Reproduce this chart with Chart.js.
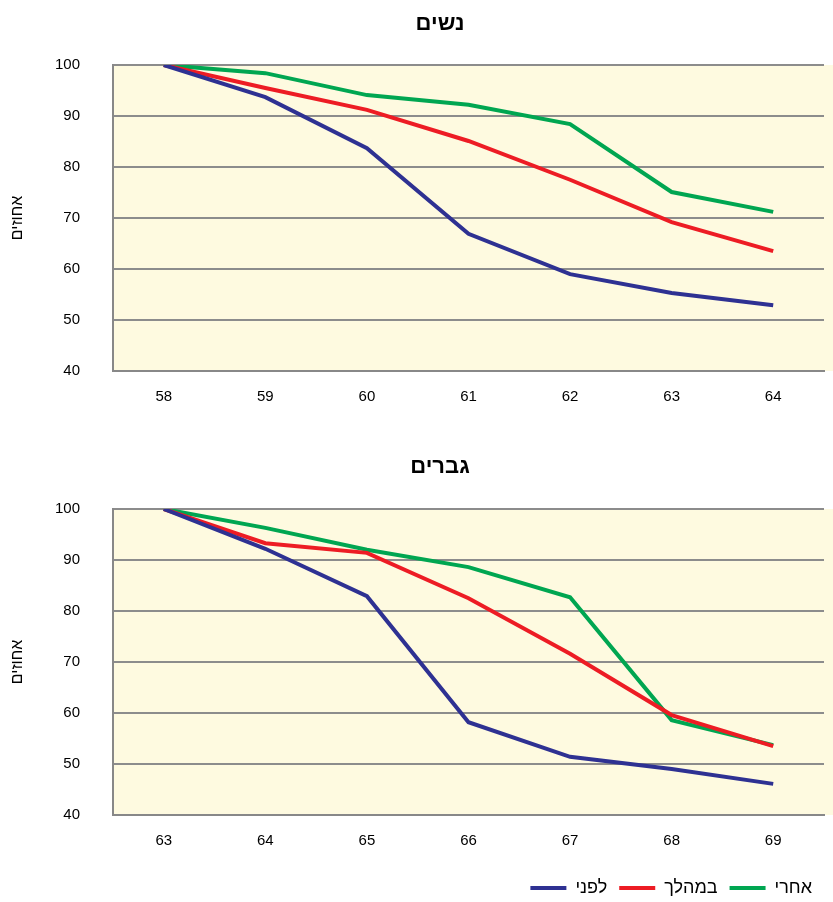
<!DOCTYPE html>
<html>
<head>
<meta charset="utf-8">
<script src="https://cdn.jsdelivr.net/npm/chart.js@4/dist/chart.umd.min.js"></script>
<style>
  html, body { margin: 0; background: #fff; overflow: hidden; font-family: "Liberation Sans", Arial, sans-serif; }
  .wrap { position: absolute; left: 0; width: 833px; }
  .title { position: absolute; left: 0; width: 880px; text-align: center; font-weight: bold; font-size: 22px; direction: rtl; }
</style>
</head>
<body>
<div class="wrap" style="top:0;height:440px"><canvas id="women"></canvas></div>
<div class="title" style="top:10px">נשים</div>
<div class="wrap" style="top:449px;height:458px"><canvas id="men"></canvas></div>
<div class="title" style="top:453px">גברים</div>
<script>
const womenAges = ["58", "59", "60", "61", "62", "63", "64"];
const menAges = ["63", "64", "65", "66", "67", "68", "69"];
const seriesNames = ["לפני", "במהלך", "אחרי"];
const seriesColors = ["#2e3192", "#ed1c24", "#00a651"];

const womenBefore = [100, 93.7, 83.7, 66.9, 59.0, 55.3, 52.9];
const womenDuring = [100, 95.5, 91.2, 85.1, 77.5, 69.2, 63.5];
const womenAfter = [100, 98.4, 94.1, 92.2, 88.4, 75.1, 71.2];

const menBefore = [100, 92.2, 82.9, 58.2, 51.4, 49.0, 46.1];
const menDuring = [100, 93.3, 91.4, 82.5, 71.6, 59.6, 53.5];
const menAfter = [100, 96.3, 92.0, 88.6, 82.7, 58.6, 53.7];

const plotBg = {
    id: "plotBg",
    beforeDraw(chart) {
        const a = chart.chartArea;
        const ctx = chart.ctx;
        ctx.save();
        ctx.fillStyle = "#fefae0";
        ctx.fillRect(a.left, a.top, chart.width - a.left, a.bottom - a.top);
        ctx.restore();
    }
};

function makeChart(id, labels, values, showLegend, topPad, bottomPad) {
    const ctx = document.getElementById(id).getContext("2d");
    return new Chart(ctx, {
        type: "line",
        data: {
            labels: labels,
            datasets: values.map((v, i) => ({
                label: seriesNames[i],
                data: v,
                borderColor: seriesColors[i],
                backgroundColor: seriesColors[i],
                borderWidth: 4,
                pointRadius: 0,
                tension: 0,
                fill: false
            }))
        },
        options: {
            responsive: true,
            maintainAspectRatio: false,
            animation: false,
            layout: { padding: { top: topPad, right: 9, bottom: bottomPad, left: 0 } },
            plugins: {
                title: { display: false },
                tooltip: { enabled: false },
                legend: {
                    display: showLegend,
                    position: "bottom",
                    align: "end",
                    labels: {
                        boxWidth: 36,
                        boxHeight: 0,
                        padding: 12,
                        color: "#000",
                        font: { family: "Liberation Sans", size: 18 }
                    }
                }
            },
            scales: {
                x: {
                    offset: true,
                    grid: { display: false, drawTicks: false },
                    border: { color: "#888", width: 2 },
                    ticks: { color: "#000", padding: 17, font: { family: "Liberation Sans", size: 15 } }
                },
                y: {
                    min: 40,
                    max: 100,
                    afterFit: (s) => { s.width = 113; },
                    grid: { color: "#8c8c8c", lineWidth: 2, drawTicks: false },
                    border: { color: "#888", width: 2 },
                    ticks: { stepSize: 10, color: "#000", padding: 33, font: { family: "Liberation Sans", size: 15 } },
                    title: {
                        display: true,
                        text: "אחוזים",
                        color: "#000",
                        padding: { top: 8, bottom: 4 },
                        font: { family: "Liberation Sans", size: 16 }
                    }
                }
            }
        },
        plugins: [plotBg]
    });
}

makeChart("women", womenAges, [womenBefore, womenDuring, womenAfter], false, 65, 17);
makeChart("men", menAges, [menBefore, menDuring, menAfter], true, 60, 0);
</script>
</body>
</html>
